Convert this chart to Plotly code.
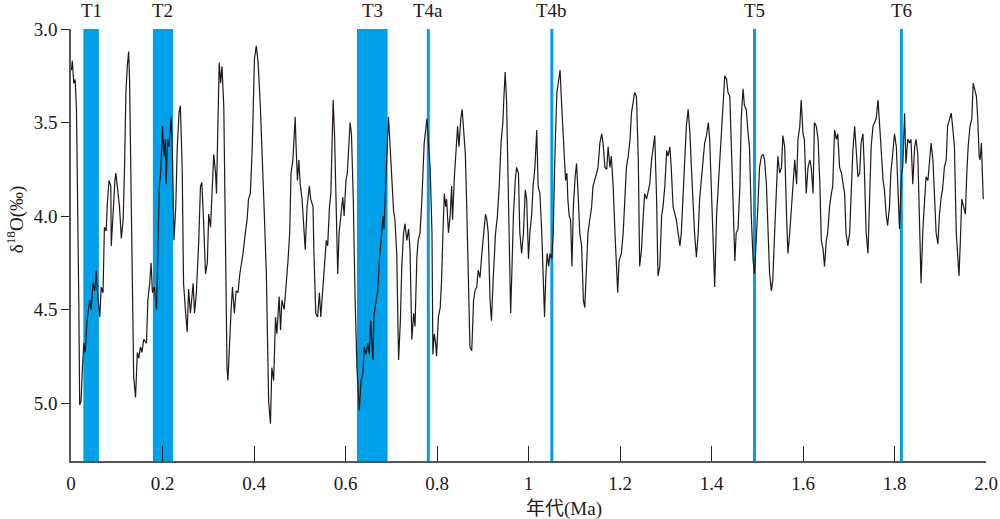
import plotly.graph_objects as go

# ---- data ----
age_ma = [
    0.001, 0.003, 0.006, 0.009, 0.012, 0.015, 0.017, 0.019, 0.022, 0.025, 0.028, 0.031, 0.035, 0.041, 0.044,
    0.048, 0.052, 0.055, 0.058, 0.063, 0.066, 0.070, 0.073, 0.077, 0.079, 0.083, 0.087, 0.088, 0.092, 0.096,
    0.098, 0.102, 0.106, 0.110, 0.114, 0.117, 0.120, 0.123, 0.126, 0.128, 0.131, 0.134, 0.137, 0.141, 0.145,
    0.148, 0.152, 0.155, 0.159, 0.165, 0.168, 0.172, 0.175, 0.178, 0.182, 0.187, 0.190, 0.193, 0.196, 0.198,
    0.200, 0.203, 0.206, 0.208, 0.211, 0.214, 0.219, 0.222, 0.225, 0.229, 0.232, 0.236, 0.239,
    0.243, 0.246, 0.250, 0.254, 0.257, 0.261, 0.267, 0.270, 0.274, 0.279, 0.283, 0.286, 0.290, 0.294, 0.298,
    0.301, 0.305, 0.308, 0.312, 0.316, 0.318, 0.321, 0.324, 0.327, 0.330, 0.334, 0.337, 0.341, 0.343, 0.347,
    0.350, 0.353, 0.357, 0.361, 0.365, 0.369, 0.372, 0.376, 0.381, 0.385, 0.388, 0.392, 0.396, 0.399, 0.401,
    0.405, 0.409, 0.414, 0.418, 0.423, 0.427, 0.430, 0.432, 0.436, 0.439, 0.443, 0.447, 0.450, 0.455, 0.458,
    0.461, 0.466, 0.471, 0.474, 0.478, 0.481, 0.485, 0.490, 0.492, 0.495, 0.498, 0.501,
    0.505, 0.509, 0.512, 0.516, 0.521, 0.524, 0.529, 0.531, 0.535, 0.539, 0.543, 0.546, 0.551, 0.554, 0.558,
    0.561, 0.565, 0.568, 0.571, 0.573, 0.576, 0.579, 0.583, 0.586, 0.590, 0.594, 0.597, 0.601, 0.604, 0.607,
    0.610, 0.613, 0.617, 0.621, 0.625, 0.630, 0.634, 0.638, 0.641, 0.645, 0.649, 0.652, 0.655, 0.660, 0.662,
    0.667, 0.670, 0.674, 0.677, 0.682, 0.684, 0.687, 0.690, 0.694, 0.697, 0.701, 0.705, 0.708, 0.712, 0.716,
    0.720, 0.723, 0.727, 0.730, 0.734, 0.738, 0.741, 0.745, 0.749, 0.752, 0.756, 0.759, 0.763, 0.767, 0.772,
    0.778,
    0.781, 0.785, 0.789, 0.791, 0.794, 0.797, 0.799, 0.803, 0.807, 0.810, 0.813, 0.816, 0.819, 0.821, 0.825,
    0.829, 0.832, 0.834, 0.838, 0.842, 0.845, 0.848, 0.852, 0.855, 0.859, 0.862, 0.865, 0.869, 0.872, 0.876,
    0.880, 0.883, 0.887, 0.890, 0.894, 0.898, 0.901, 0.906, 0.909, 0.912, 0.916, 0.919, 0.923, 0.928, 0.932,
    0.936, 0.940, 0.944, 0.946, 0.949, 0.952, 0.955, 0.958, 0.961, 0.964, 0.967, 0.971, 0.974, 0.978, 0.981,
    0.985, 0.989, 0.993, 0.996, 1.000, 1.003, 1.007, 1.010, 1.014, 1.018, 1.021, 1.025,
    1.029, 1.032, 1.035, 1.038, 1.041, 1.044, 1.047, 1.051, 1.054, 1.058, 1.062, 1.065, 1.069, 1.072, 1.075,
    1.078, 1.081, 1.084, 1.086, 1.089, 1.092, 1.095, 1.098, 1.102, 1.105, 1.109, 1.112, 1.116, 1.120, 1.123,
    1.127, 1.130, 1.134, 1.138, 1.141, 1.145, 1.149, 1.152, 1.156, 1.160, 1.163, 1.167, 1.171, 1.174, 1.178,
    1.181, 1.185, 1.189, 1.193, 1.195, 1.198, 1.203, 1.207, 1.211, 1.214, 1.218, 1.222, 1.225, 1.229, 1.232,
    1.236, 1.240, 1.243, 1.247, 1.251, 1.254, 1.258, 1.261, 1.265, 1.269, 1.273, 1.276, 1.280, 1.283,
    1.287, 1.291, 1.294, 1.298, 1.302, 1.305, 1.309, 1.312, 1.316, 1.320, 1.323, 1.327, 1.331, 1.334, 1.338,
    1.341, 1.345, 1.349, 1.353, 1.356, 1.360, 1.363, 1.367, 1.371, 1.374, 1.378, 1.382, 1.385, 1.389, 1.393,
    1.396, 1.400, 1.403, 1.407, 1.411, 1.414, 1.418, 1.422, 1.425, 1.429, 1.433, 1.436, 1.440, 1.443, 1.447,
    1.451, 1.454, 1.458, 1.462, 1.465, 1.469, 1.472, 1.476, 1.480, 1.483, 1.487, 1.491, 1.494, 1.498, 1.501,
    1.505, 1.509, 1.513, 1.516, 1.520, 1.523, 1.527, 1.531, 1.534, 1.538, 1.542, 1.545,
    1.549, 1.553, 1.556, 1.560, 1.564, 1.567, 1.571, 1.574, 1.578, 1.582, 1.586, 1.589, 1.593, 1.596, 1.600,
    1.603, 1.607, 1.611, 1.615, 1.618, 1.622, 1.625, 1.629, 1.633, 1.637, 1.640, 1.644, 1.647, 1.651, 1.654,
    1.658, 1.662, 1.665, 1.669, 1.673, 1.676, 1.680, 1.684, 1.687, 1.691, 1.694, 1.698, 1.702, 1.705, 1.709,
    1.713, 1.716, 1.720, 1.724, 1.727, 1.731, 1.734, 1.738, 1.742, 1.745, 1.749, 1.753, 1.756, 1.760, 1.764,
    1.767, 1.771, 1.775, 1.778, 1.782, 1.785,
    1.789, 1.792, 1.796, 1.800, 1.804, 1.807, 1.811, 1.815, 1.818, 1.822, 1.825, 1.829, 1.833, 1.836, 1.840,
    1.844, 1.847, 1.851, 1.855, 1.858, 1.862, 1.866, 1.869, 1.873, 1.876, 1.880, 1.884, 1.887, 1.891, 1.895,
    1.898, 1.902, 1.905, 1.909, 1.913, 1.916, 1.920, 1.924, 1.927, 1.931, 1.935, 1.938, 1.941, 1.944, 1.947,
    1.951, 1.955, 1.958, 1.961, 1.965, 1.969, 1.972, 1.975, 1.979, 1.982, 1.985, 1.987, 1.990, 1.992, 1.994,
]

d18o = [
    3.22, 3.17, 3.29, 3.27, 3.43, 3.91, 4.45, 5.01, 4.99, 4.81, 4.68, 4.73, 4.56, 4.45, 4.50,
    4.36, 4.40, 4.29, 4.41, 4.54, 4.38, 4.41, 4.06, 4.08, 3.95, 3.81, 3.84, 4.16, 3.95, 3.81,
    3.77, 3.88, 3.95, 4.12, 4.02, 3.74, 3.34, 3.20, 3.12, 3.27, 3.74, 4.45, 4.86, 4.97, 4.73,
    4.76, 4.70, 4.73, 4.66, 4.68, 4.45, 4.36, 4.25, 4.41, 4.38, 4.50, 4.20, 3.84, 3.77, 3.65,
    3.52, 3.68, 3.59, 3.83, 3.59, 3.63, 3.47, 3.70, 4.13, 3.95, 3.65, 3.45, 3.41,
    3.74, 4.36, 4.50, 4.62, 4.39, 4.52, 4.36, 4.52, 4.41, 4.15, 3.84, 3.82, 4.04, 4.31, 4.25,
    3.99, 4.06, 3.90, 3.67, 3.77, 3.88, 3.52, 3.18, 3.29, 3.20, 3.42, 4.09, 4.81, 4.88, 4.63,
    4.50, 4.38, 4.52, 4.40, 4.41, 4.31, 4.27, 4.20, 4.09, 4.02, 3.91, 3.88, 3.65, 3.36, 3.16,
    3.09, 3.18, 3.42, 3.74, 4.02, 4.31, 4.63, 4.99, 5.11, 4.81, 4.88, 4.54, 4.63, 4.43, 4.61,
    4.45, 4.50, 4.36, 4.25, 4.09, 3.77, 3.70, 3.47, 3.63, 3.81, 3.70, 3.83,
    3.91, 4.07, 4.18, 3.95, 3.84, 3.91, 3.95, 4.20, 4.52, 4.54, 4.41, 4.54, 4.36, 4.23, 4.13,
    4.16, 3.95, 3.88, 3.56, 3.38, 3.56, 3.95, 4.31, 4.09, 3.99, 3.90, 4.00, 3.81, 3.77, 3.59,
    3.50, 3.56, 3.91, 4.45, 4.81, 5.04, 4.88, 4.84, 4.70, 4.74, 4.68, 4.74, 4.56, 4.77, 4.54,
    4.45, 4.41, 4.24, 4.13, 4.00, 4.07, 3.84, 3.70, 3.47, 3.59, 3.77, 3.97, 4.02, 4.20, 4.77,
    4.56, 4.27, 4.09, 4.04, 4.13, 4.07, 4.18, 4.66, 4.52, 4.59, 4.22, 4.13, 4.09, 3.91, 3.61,
    3.48,
    3.59, 3.74, 4.09, 4.74, 4.63, 4.68, 4.75, 4.54, 4.49, 4.34, 4.09, 3.88, 3.95, 3.91, 4.09,
    3.99, 3.84, 4.02, 3.79, 3.61, 3.52, 3.63, 3.48, 3.43, 3.59, 3.67, 3.95, 4.45, 4.70, 4.72,
    4.45, 4.40, 4.38, 4.29, 4.33, 4.20, 4.13, 3.99, 4.02, 4.09, 4.45, 4.56, 4.33, 4.09, 4.00,
    3.84, 3.61, 3.50, 3.38, 3.23, 3.38, 3.74, 4.27, 4.52, 4.27, 4.00, 3.81, 3.74, 3.77, 4.09,
    4.20, 4.09, 3.86, 3.91, 4.23, 4.09, 3.99, 3.84, 3.74, 3.54, 3.84, 3.88,
    4.09, 4.36, 4.54, 4.31, 4.20, 4.27, 4.20, 4.23, 4.09, 3.65, 3.34, 3.29, 3.22, 3.38, 3.52,
    3.67, 3.81, 3.77, 3.91, 4.00, 4.02, 4.27, 3.95, 3.79, 3.72, 3.91, 4.09, 4.16, 4.45, 4.49,
    4.24, 4.09, 4.02, 3.95, 3.84, 3.81, 3.77, 3.74, 3.61, 3.56, 3.61, 3.74, 3.75, 3.63, 3.74,
    3.68, 3.84, 4.09, 4.32, 4.41, 4.24, 4.20, 4.09, 3.84, 3.74, 3.68, 3.59, 3.45, 3.38, 3.34,
    3.36, 3.70, 4.27, 4.18, 3.99, 3.88, 3.91, 3.88, 3.83, 3.70, 3.61, 3.57, 3.91, 4.32,
    4.27, 4.00, 3.95, 3.84, 3.65, 3.68, 3.63, 3.74, 3.95, 3.99, 4.02, 4.09, 4.16, 4.09, 3.88,
    3.70, 3.52, 3.43, 3.56, 3.74, 3.99, 4.09, 4.22, 4.09, 3.91, 3.81, 3.68, 3.61, 3.57, 3.50,
    3.59, 3.91, 4.18, 4.38, 4.00, 3.88, 3.72, 3.54, 3.38, 3.25, 3.27, 3.34, 3.36, 3.56, 3.91,
    4.24, 4.09, 4.07, 3.84, 3.48, 3.32, 3.41, 3.43, 3.56, 3.63, 4.00, 4.24, 4.31, 4.15, 3.97,
    3.74, 3.68, 3.67, 3.70, 3.83, 4.00, 4.31, 4.40, 4.34, 4.09, 3.84, 3.68,
    3.77, 3.74, 3.57, 3.63, 4.00, 4.20, 4.09, 3.95, 3.84, 3.70, 3.83, 3.59, 3.52, 3.38, 3.56,
    3.59, 3.88, 3.74, 3.70, 3.74, 3.88, 3.50, 3.52, 3.59, 3.84, 4.13, 4.18, 4.27, 4.13, 4.09,
    3.95, 3.88, 3.84, 3.54, 3.59, 3.56, 3.74, 3.77, 3.81, 3.88, 4.09, 4.16, 4.09, 3.86, 3.65,
    3.52, 3.65, 3.79, 3.77, 3.61, 3.56, 3.74, 4.09, 4.20, 3.95, 3.63, 3.52, 3.50, 3.48, 3.38,
    3.52, 3.65, 3.81, 3.86, 4.00, 4.05,
    3.95, 3.77, 3.67, 3.56, 3.63, 3.84, 4.07, 3.79, 3.74, 3.45, 3.72, 3.59, 3.61, 3.59, 3.83,
    3.63, 3.59, 3.67, 4.09, 4.36, 4.07, 3.91, 3.79, 3.81, 3.74, 3.61, 3.70, 3.84, 4.09, 4.15,
    4.00, 3.90, 3.86, 3.74, 3.70, 3.52, 3.48, 3.45, 3.52, 3.63, 4.09, 4.20, 4.32, 4.13, 3.91,
    3.95, 3.99, 3.77, 3.63, 3.52, 3.48, 3.29, 3.32, 3.36, 3.48, 3.68, 3.70, 3.61, 3.77, 3.91,
]

band_labels = ["T1", "T2", "T3"]
band_start = [0.027, 0.179, 0.625]
band_end = [0.061, 0.223, 0.692]

line_labels = ["T4a", "T4b", "T5", "T6"]
line_pos = [0.781, 1.051, 1.494, 1.815]

x_tickvals = [0, 0.2, 0.4, 0.6, 0.8, 1.0, 1.2, 1.4, 1.6, 1.8, 2.0]
x_ticktext = ["0", "0.2", "0.4", "0.6", "0.8", "1", "1.2", "1.4", "1.6", "1.8", "2.0"]
y_tickvals = [3.0, 3.5, 4.0, 4.5, 5.0]
y_ticktext = ["3.0", "3.5", "4.0", "4.5", "5.0"]

Y_TOP, Y_BOTTOM = 3.0, 5.31
BLUE = "#00A0E9"
INK = "#231815"
SERIF = "Liberation Serif, Times New Roman, serif"

fig = go.Figure()
fig.add_trace(go.Scatter(x=age_ma, y=d18o, mode="lines",
                         line=dict(color=INK, width=1.2), showlegend=False,
                         hoverinfo="skip"))

shapes = []
annotations = []
for lab, a, b in zip(band_labels, band_start, band_end):
    shapes.append(dict(type="rect", xref="x", yref="y", x0=a, x1=b, y0=Y_TOP, y1=Y_BOTTOM,
                       fillcolor=BLUE, line=dict(width=0), layer="below"))
    annotations.append(dict(x=(a + b) / 2, xref="x", y=1.042, yref="paper", text=lab,
                            showarrow=False, xanchor="center", yanchor="middle",
                            font=dict(family=SERIF, size=19, color=INK)))
for lab, p in zip(line_labels, line_pos):
    shapes.append(dict(type="line", xref="x", yref="y", x0=p, x1=p, y0=Y_TOP, y1=Y_BOTTOM,
                       line=dict(color=BLUE, width=3), layer="below"))
    annotations.append(dict(x=p, xref="x", y=1.042, yref="paper", text=lab,
                            showarrow=False, xanchor="center", yanchor="middle",
                            font=dict(family=SERIF, size=19, color=INK)))

annotations.append(dict(x=-0.061, xref="paper", y=0.56, yref="paper",
                        text="δ<sup>18</sup>O(‰)", textangle=-90, showarrow=False,
                        xanchor="center", yanchor="middle",
                        font=dict(family=SERIF, size=19, color=INK)))
annotations.append(dict(x=1.077, xref="x", y=-0.11, yref="paper",
                        text="年代(Ma)", showarrow=False,
                        xanchor="center", yanchor="middle",
                        font=dict(family="Liberation Serif, Noto Sans CJK SC", size=19, color=INK)))

fig.update_layout(
    width=1000, height=519,
    margin=dict(l=71, r=14, t=29, b=58, autoexpand=False),
    paper_bgcolor="white", plot_bgcolor="white",
    shapes=shapes, annotations=annotations,
    xaxis=dict(range=[0, 2.0], showgrid=False, zeroline=False, automargin=False,
               showline=True, linecolor="#555555", linewidth=1.5,
               ticks="inside", ticklen=15, tickwidth=1.2, tickcolor="#222222",
               ticklabelstandoff=4,
               tickvals=x_tickvals, ticktext=x_ticktext,
               tickfont=dict(family=SERIF, size=19, color=INK)),
    yaxis=dict(range=[Y_BOTTOM, Y_TOP], showgrid=False, zeroline=False, automargin=False,
               showline=True, linecolor="#555555", linewidth=1.5,
               ticks="outside", ticklen=8, tickwidth=1.2, tickcolor="#222222",
               tickvals=y_tickvals, ticktext=y_ticktext,
               tickfont=dict(family=SERIF, size=19, color=INK)),
)

fig.write_html("out.html",
               config={"displayModeBar": False},
               post_script="document.body.style.margin='0';document.body.style.padding='0';"
                           "document.body.style.overflow='hidden';")
